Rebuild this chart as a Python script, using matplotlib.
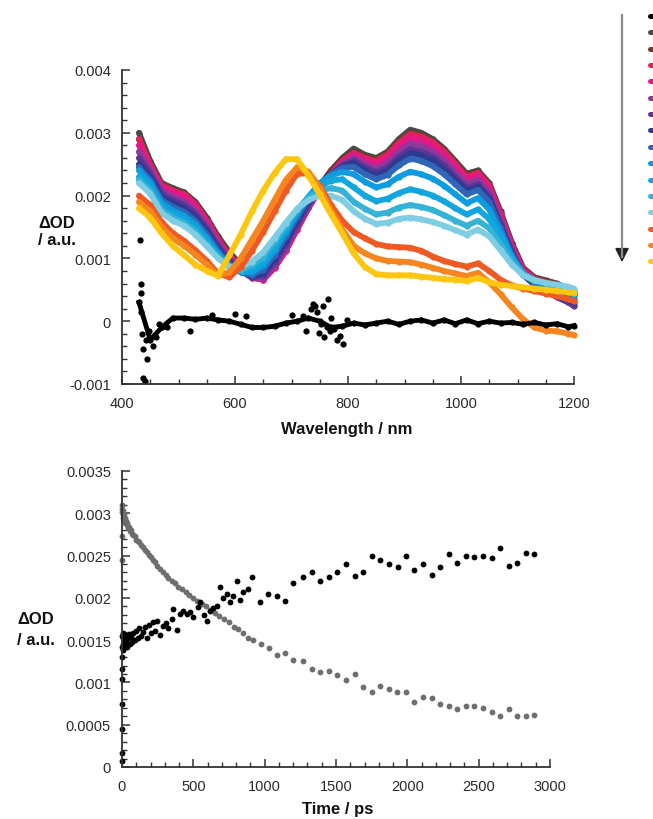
import numpy as np
import matplotlib
matplotlib.use("Agg")
import matplotlib.pyplot as plt
from matplotlib.ticker import MultipleLocator, FormatStrFormatter
from matplotlib.lines import Line2D
from matplotlib.patches import FancyArrowPatch

plt.rcParams['font.family'] = ['Liberation Sans', 'DejaVu Sans']

# ---------------- data (top panel: transient spectra, units of 1e-4 OD) -------------
SCALE = 1e-4
wavelength = [430, 450, 470, 490, 510, 530, 550, 570, 590, 610, 630, 650, 670, 690, 710,
              730, 750, 770, 790, 810, 830, 850, 870, 890, 910, 930, 950, 970, 990, 1010,
              1030, 1050, 1070, 1090, 1110, 1130, 1150, 1170, 1190, 1200]

spec_black = [3, -3, -1, 0.5, 0.5, 0.3, 0.5, 0.2, 0, -0.5, -1, -1, -0.8, -0.3, 0,
              0.5, 0, -1, -0.8, -0.3, -0.6, -0.3, 0, -0.5, 0, 0.2, -0.3, 0.2, -0.4, 0.2,
              -0.4, 0, -0.3, -0.2, -0.5, -0.2, -0.6, -0.4, -0.9, -0.7]
black_extra_wl = [432, 433, 433, 434, 436, 437, 438, 440, 442, 445, 447, 455, 460, 465, 480,
                  520, 560, 600, 620, 700, 720, 725, 735, 738, 742, 745, 748, 752, 755, 758,
                  762, 765, 768, 770, 775, 780, 785, 791, 798]
black_extra_val = [13, 6, 4.5, 1.5, -2, -4.5, -9, -9.5, -3, -6, -1.5, -4, -2.5, -0.5, -1,
                   -1.5, 1, 1.2, 0.8, 1, 0.8, -1.5, 2, 2.7, 2.5, 1.5, -1.8, -0.5, 2.5, -2.5,
                   -1, 3.5, -1.5, 0.5, -1.2, -3, -2.3, -3.6, 0.2]

spec_gray = [30, 25.5, 22, 21.2, 20.5, 19, 16.5, 13.5, 11, 9, 7.3, 6.8, 8.8, 11.5, 15,
             18.5, 21.5, 24, 26, 27.5, 26.5, 26, 27, 29, 30.5, 30, 29, 27.5, 25.5, 23.5,
             24, 22, 17.5, 12.5, 8.5, 7, 6.5, 6, 5, 4.5]
spec_brown = [29, 25, 21.8, 21, 20.3, 18.8, 16.3, 13.3, 10.8, 8.8, 7.2, 6.8, 8.8, 11.6, 15,
              18.5, 21.5, 24, 25.8, 27, 26.2, 25.7, 26.7, 28.6, 30, 29.6, 28.6, 27.2, 25.2, 23.2,
              23.8, 21.8, 17.2, 12.3, 8.4, 6.9, 6.4, 5.9, 5, 4.5]
spec_crimson = [29, 24.8, 21.6, 20.8, 20.2, 18.6, 16, 13, 10.5, 8.5, 7, 6.6, 8.5, 11.2, 14.6,
                18, 21, 23.5, 25.5, 26.8, 26, 25.5, 26.5, 28.4, 29.8, 29.4, 28.5, 27, 25, 23,
                23.6, 21.6, 17, 12, 8.2, 6.8, 6.2, 5.8, 5, 4.4]
spec_pink = [28, 24.5, 21.3, 20.5, 19.8, 18.3, 15.8, 12.8, 10.3, 8.3, 6.9, 6.6, 8.6, 11.3, 14.7,
             18, 21, 23.5, 25.3, 26.5, 25.6, 25, 26, 27.8, 29.2, 28.8, 27.9, 26.5, 24.5, 22.6,
             23.2, 21.2, 16.6, 11.8, 8, 6.6, 6, 5.5, 4.8, 4.2]
spec_purple = [27, 24, 20.8, 19.8, 19, 17.6, 15.2, 12.4, 10, 8.1, 6.9, 6.8, 8.9, 11.7, 15,
               18.2, 21, 23.4, 25, 26, 25, 24.3, 25.2, 27, 28.3, 27.9, 27, 25.6, 23.7, 21.9,
               22.5, 20.5, 16, 11.3, 7.6, 6, 5, 4, 3, 2.6]
spec_violet = [26, 23.5, 20.3, 19.3, 18.5, 17.1, 14.8, 12, 9.7, 8, 7, 7.2, 9.4, 12.2, 15.5,
               18.6, 21.2, 23.4, 24.8, 25.6, 24.5, 23.7, 24.5, 26.2, 27.4, 27, 26.2, 24.8, 23, 21.2,
               21.8, 19.9, 15.5, 11, 7.4, 5.8, 4.8, 3.8, 3, 2.4]
spec_navy = [25, 23, 19.8, 18.8, 18, 16.6, 14.3, 11.6, 9.4, 7.9, 7.2, 7.6, 9.9, 12.8, 16,
             19, 21.5, 23.4, 24.6, 25.2, 24, 23.2, 24, 25.6, 26.8, 26.4, 25.6, 24.2, 22.5, 20.8,
             21.4, 19.5, 15.2, 10.8, 7.4, 5.8, 4.8, 4, 3.4, 3]
spec_blue = [24.5, 22.5, 19.3, 18.2, 17.4, 16, 13.8, 11.2, 9.1, 7.8, 7.4, 8.2, 10.6, 13.5, 16.6,
             19.4, 21.8, 23.4, 24.4, 24.6, 23.4, 22.6, 23.3, 24.8, 25.9, 25.5, 24.7, 23.4, 21.8, 20.2,
             20.9, 19, 14.8, 10.5, 7.4, 6, 5.2, 4.6, 4, 3.6]
spec_sky = [24, 22, 18.8, 17.6, 16.8, 15.4, 13.2, 10.8, 8.8, 7.8, 7.8, 8.9, 11.3, 14.2, 17.2,
            19.8, 22, 23.2, 23.8, 23.4, 22.2, 21.3, 21.8, 23, 23.8, 23.4, 22.7, 21.6, 20.2, 18.8,
            19.6, 17.8, 14.1, 10.3, 7.6, 6.4, 5.8, 5.2, 4.6, 4.2]
spec_sky2 = [23, 21.3, 18.2, 17, 16.2, 14.8, 12.7, 10.5, 8.7, 7.9, 8.3, 9.6, 12, 14.8, 17.6,
             19.8, 21.5, 22.4, 22.6, 21.3, 20, 19.1, 19.5, 20.4, 21, 20.6, 20, 19.1, 18, 17,
             17.8, 16.3, 13.2, 10, 7.6, 6.5, 6, 5.5, 5, 4.6]
spec_cyan = [22.5, 20.8, 17.7, 16.5, 15.7, 14.3, 12.3, 10.2, 8.7, 8.2, 8.9, 10.3, 12.7, 15.3, 17.8,
             19.6, 20.8, 21.2, 20.8, 19, 17.9, 17, 17.3, 18.1, 18.5, 18.2, 17.7, 16.9, 16, 15.2,
             16, 14.8, 12.2, 9.5, 7.5, 6.6, 6.1, 5.7, 5.3, 5]
spec_lightcyan = [22, 20.3, 17.2, 16, 15.2, 13.8, 11.9, 10, 8.7, 8.6, 9.5, 11, 13.3, 15.7, 17.9,
                  19.3, 20, 20, 19.3, 17.5, 16.3, 15.5, 15.7, 16.3, 16.5, 16.2, 15.8, 15.2, 14.5, 13.8,
                  14.6, 13.5, 11.3, 9, 7.3, 6.5, 6.1, 5.8, 5.5, 5.2]
spec_orangered = [20, 18.5, 15.8, 14, 12.8, 11.3, 9.6, 7.6, 7, 8.6, 11.2, 14.2, 17.5, 20.8, 23.5,
                  23.5, 21.5, 18.5, 16, 14.2, 13.2, 12.3, 11.9, 11.8, 11.7, 11.2, 10.3, 9.6, 9.1, 8.7,
                  9.2, 8, 6.6, 5.7, 5.2, 4.8, 4.4, 4, 3.5, 3.2]
spec_orange = [19, 17.5, 15, 13.2, 12, 10.6, 9, 7.3, 7.8, 10, 13, 16, 19.3, 22.5, 24.5,
               23.8, 21.2, 17.6, 14.6, 12, 10.8, 10, 9.6, 9.5, 9.4, 9, 8.5, 8, 7.6, 7.2,
               7.7, 6.2, 4.3, 2.2, 0.3, -1, -1.5, -1.6, -2, -2.2]
spec_yellow = [18, 16.5, 14, 12, 10.5, 9, 8, 7.2, 10.5, 13.8, 17.5, 20.8, 23.6, 25.8, 25.8,
               23.2, 20.2, 17, 14, 10.8, 8.6, 7.5, 7.3, 7.3, 7.3, 7.1, 6.9, 6.7, 6.6, 6.4,
               6.9, 6.2, 5.8, 5.6, 5.4, 5.2, 5, 4.8, 4.6, 4.5]

series_colors = ['#000000', '#4a4a4a', '#6b3b2b', '#e0245a', '#e3178a', '#8b3a9c', '#5e3596',
                 '#2e3a92', '#2f66b8', '#0b9de0', '#12a6df', '#35b3d6', '#7fcde2', '#ef5a24',
                 '#f5861f', '#fdc710']

colored_spectra = [spec_gray, spec_brown, spec_crimson, spec_pink, spec_purple, spec_violet,
                   spec_navy, spec_blue, spec_sky, spec_sky2, spec_cyan, spec_lightcyan,
                   spec_orangered, spec_orange, spec_yellow]

# ---------------- data (bottom panel: kinetics, units of 1e-4 OD) -------------
decay_gray = [(0, 24.5), (0, 27.3), (0, 31), (0, 30.2), (3, 30.5), (5, 29.8), (8, 30.3), (10, 29.5),
              (13, 29.9), (16, 29.2), (20, 29.4), (24, 28.9), (28, 29.1), (33, 28.6), (38, 28.8),
              (44, 28.3), (50, 28.4), (57, 27.9), (64, 28.0), (72, 27.6), (80, 27.4), (90, 27.3),
              (100, 26.9), (110, 26.7), (120, 26.6), (132, 26.2), (145, 26.0), (158, 25.6),
              (172, 25.4), (186, 25.1), (200, 24.8), (215, 24.5), (230, 24.2), (248, 23.8),
              (266, 23.4), (285, 23.0), (305, 22.7), (325, 22.4), (348, 22.0), (372, 21.7),
              (396, 21.3), (420, 21.0), (446, 20.7), (472, 20.3), (500, 20.0), (528, 19.6),
              (558, 19.3), (588, 19.0), (618, 18.6), (650, 18.2), (682, 17.8), (715, 17.5),
              (748, 17.1), (782, 16.6), (816, 16.3), (850, 15.8), (885, 15.3), (920, 15.0),
              (975, 14.5), (1030, 14.1), (1085, 13.3), (1142, 13.5), (1200, 12.6), (1270, 12.5),
              (1330, 11.6), (1388, 11.2), (1452, 11.4), (1510, 10.9), (1570, 10.3), (1633, 11.0),
              (1690, 9.5), (1750, 8.9), (1810, 9.6), (1870, 9.2), (1930, 8.9), (1990, 8.9),
              (2048, 7.7), (2110, 8.3), (2170, 8.1), (2228, 7.4), (2291, 7.2), (2349, 6.8),
              (2408, 7.2), (2467, 7.2), (2528, 7.0), (2590, 6.5), (2650, 6.0), (2710, 6.8),
              (2768, 6.0), (2830, 6.0), (2888, 6.2)]

rise_black = [(0, 0.7), (0, 1.7), (0, 4.5), (0, 7.4), (0, 10.4), (0, 11.6), (0, 13), (2, 14.2),
              (3, 15.5), (5, 13.8), (6, 15.2), (8, 14.6), (10, 15.8), (12, 14.3), (14, 15.1),
              (16, 14.8), (18, 15.6), (20, 14.4), (24, 15.3), (28, 14.9), (33, 15.5), (38, 14.2),
              (44, 15.2), (50, 15.7), (57, 14.5), (64, 15.4), (72, 14.8), (80, 15.9), (90, 15.0),
              (100, 16.1), (110, 15.3), (120, 16.4), (132, 15.5), (145, 16.0), (158, 16.6),
              (172, 15.2), (186, 16.8), (200, 15.8), (215, 17.2), (230, 16.1), (248, 17.3),
              (266, 15.6), (290, 16.7), (305, 17.0), (325, 16.4), (348, 17.5), (360, 18.7),
              (383, 16.2), (406, 18.1), (430, 18.4), (453, 18.1), (476, 18.3), (500, 17.7),
              (530, 18.9), (547, 19.5), (575, 18.0), (594, 17.3), (620, 18.4), (640, 18.8),
              (663, 19.0), (687, 21.3), (710, 20.0), (733, 20.5), (757, 19.5), (780, 20.2),
              (808, 22.0), (827, 19.8), (850, 20.7), (880, 21.0), (909, 22.5), (967, 19.5),
              (1025, 20.5), (1085, 20.2), (1142, 19.6), (1200, 21.8), (1270, 22.5), (1330, 23.0),
              (1388, 22.0), (1452, 22.5), (1510, 23.0), (1570, 24.0), (1633, 22.6), (1690, 23.0),
              (1750, 25.0), (1810, 24.5), (1872, 24.0), (1933, 23.7), (1990, 25.0), (2048, 23.3),
              (2110, 24.0), (2170, 22.7), (2228, 23.6), (2291, 25.2), (2349, 24.1), (2408, 25.0),
              (2467, 24.8), (2528, 25.0), (2590, 24.7), (2650, 25.9), (2710, 23.8), (2768, 24.1),
              (2830, 25.3), (2888, 25.2)]

# ---------------- figure -------------
W, H = 653, 820
fig = plt.figure(figsize=(W / 100, H / 100), dpi=100)

def fx(px):
    return px / W

def fy(py):
    return 1 - py / H

ax1 = fig.add_axes([fx(122), fy(385), fx(574) - fx(122), fy(71) - fy(385)])
ax2 = fig.add_axes([fx(122), fy(768), fx(550) - fx(122), fy(472) - fy(768)])

spine_col = '#333333'
for ax in (ax1, ax2):
    ax.spines['top'].set_visible(False)
    ax.spines['right'].set_visible(False)
    for s in ('left', 'bottom'):
        ax.spines[s].set_linewidth(1.3)
        ax.spines[s].set_color(spine_col)
    ax.tick_params(which='both', direction='in', color=spine_col, labelcolor='#2a2a2a',
                   labelsize=10.5)
    ax.tick_params(which='major', length=6, width=1.1)
    ax.tick_params(which='minor', length=3.5, width=1.0)
    ax.tick_params(axis='x', pad=9)
    ax.tick_params(axis='y', pad=8)

# top panel
wl = np.array(wavelength)
for vals, col in zip(colored_spectra, series_colors[1:]):
    ax1.plot(wl, np.array(vals) * SCALE, '-o', color=col, lw=4.2, ms=4.5, mew=0,
             solid_joinstyle='round', solid_capstyle='round', clip_on=False)
ax1.plot(wl, np.array(spec_black) * SCALE, '-o', color='#000000', lw=3.5, ms=4.5, mew=0,
         solid_joinstyle='round', clip_on=False)
ax1.plot(black_extra_wl, np.array(black_extra_val) * SCALE, 'o', color='#000000', ms=4.5,
         mew=0, clip_on=False)

ax1.set_xlim(400, 1200)
ax1.set_ylim(-0.001, 0.004)
ax1.xaxis.set_major_locator(MultipleLocator(200))
ax1.xaxis.set_minor_locator(MultipleLocator(50))
ax1.yaxis.set_major_locator(MultipleLocator(0.001))
ax1.yaxis.set_minor_locator(MultipleLocator(0.0002))
ax1.yaxis.set_major_formatter(FormatStrFormatter('%g'))

# bottom panel
gt, gv = zip(*decay_gray)
bt, bv = zip(*rise_black)
ax2.plot(gt, np.array(gv) * SCALE, 'o', color='#6e6e6e', ms=4.2, mew=0, clip_on=False)
ax2.plot(bt, np.array(bv) * SCALE, 'o', color='#000000', ms=4.2, mew=0, clip_on=False)
ax2.set_xlim(0, 3000)
ax2.set_ylim(0, 0.0035)
ax2.xaxis.set_major_locator(MultipleLocator(500))
ax2.xaxis.set_minor_locator(MultipleLocator(100))
ax2.yaxis.set_major_locator(MultipleLocator(0.0005))
ax2.yaxis.set_minor_locator(MultipleLocator(0.0001))
ax2.yaxis.set_major_formatter(FormatStrFormatter('%g'))

# axis labels
lab = dict(fontsize=12, fontweight='bold', color='#111111')
fig.text(fx(57), fy(232), "ΔOD\n/ a.u.", ha='center', va='center', linespacing=1.2, **lab)
fig.text(fx(36), fy(630), "ΔOD\n/ a.u.", ha='center', va='center', linespacing=1.45, **lab)
fig.text(fx(347), fy(430), "Wavelength / nm", ha='center', va='center', **lab)
fig.text(fx(338), fy(810), "Time / ps", ha='center', va='center', **lab)

# legend dashes (labels cut off at the right edge) and time arrow
for i, col in enumerate(series_colors):
    y = fy(17 + i * 16.35)
    fig.add_artist(Line2D([fx(650), fx(662)], [y, y], transform=fig.transFigure,
                          color=col, lw=3.6, solid_capstyle='round'))
fig.add_artist(Line2D([fx(622), fx(622)], [fy(16), fy(258)], transform=fig.transFigure,
                      color='#8c8c8c', lw=1.6))
fig.add_artist(FancyArrowPatch((fx(622), fy(252)), (fx(622), fy(266)),
                               transform=fig.transFigure, arrowstyle='-|>,head_length=6,head_width=3',
                               color='#222222', lw=1.2, mutation_scale=1.4))

fig.savefig('out.png', dpi=100)
